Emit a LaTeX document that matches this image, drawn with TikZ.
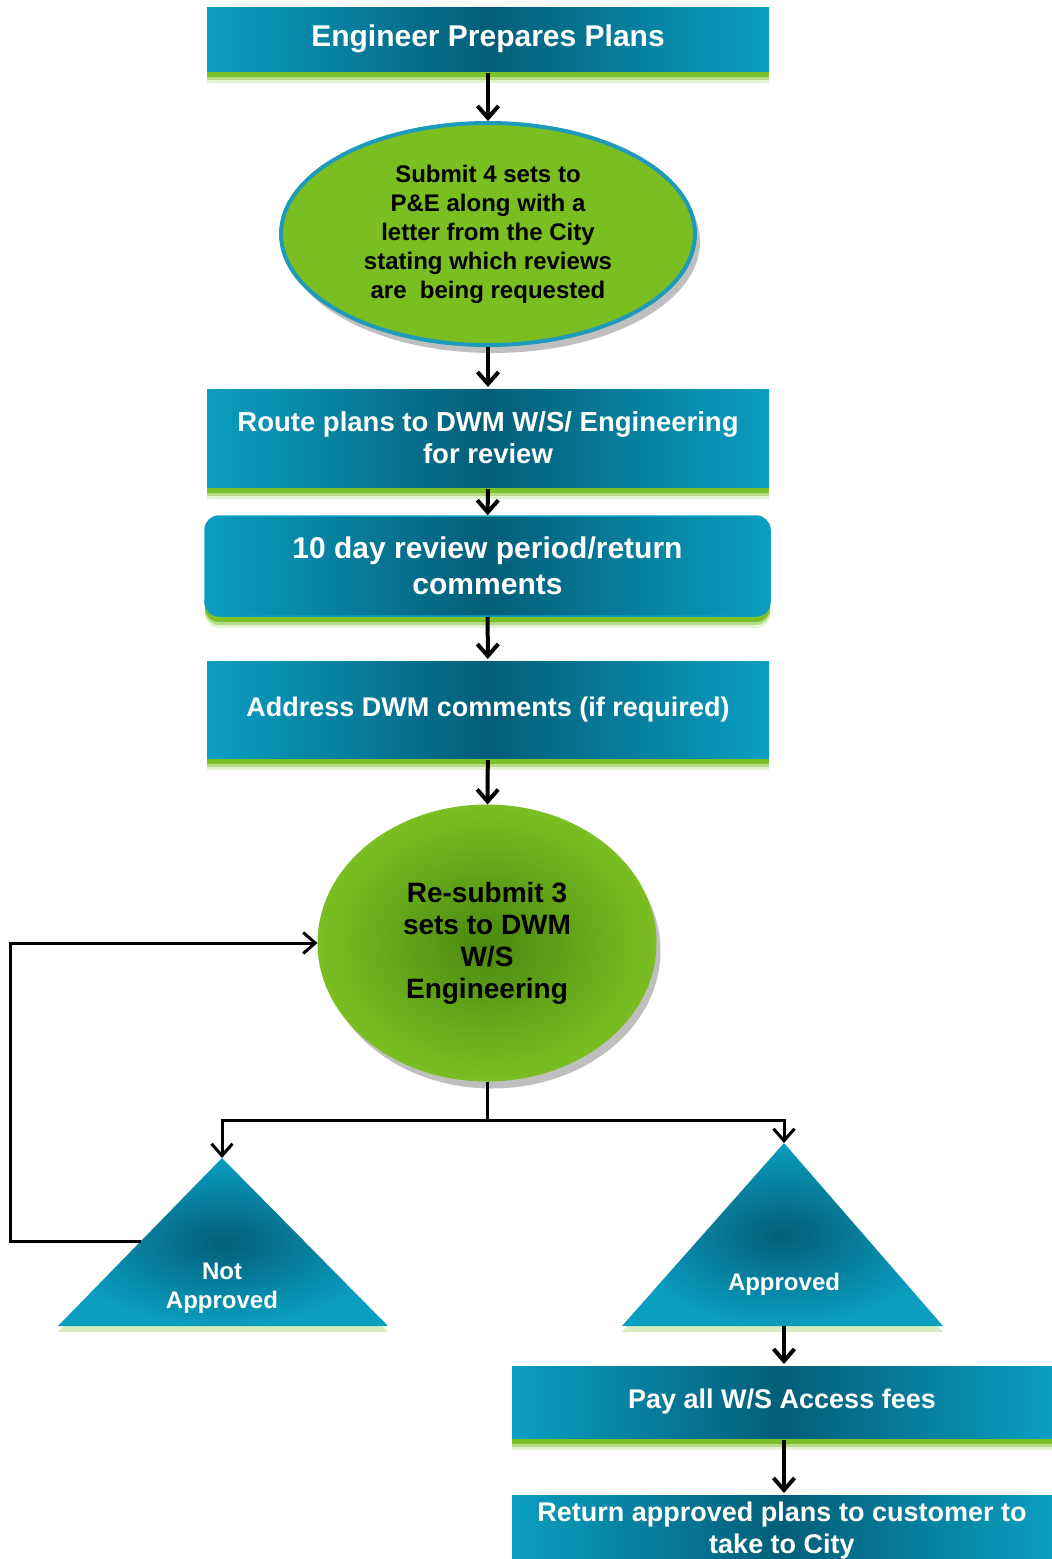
\documentclass[tikz,border=0pt]{standalone}
\usepackage{fontspec}
\setmainfont{Liberation Sans}
\usetikzlibrary{arrows.meta, shapes.geometric, shadows}
\definecolor{cteal}{HTML}{0A9EC1}
\definecolor{cdeep}{HTML}{045E78}
\definecolor{cgreen}{HTML}{7DC12A}
\definecolor{clime}{HTML}{7ABE22}
\definecolor{cmoss}{HTML}{4B880F}
\definecolor{cring}{HTML}{1E9BBA}
\newcommand{\fs}[2]{\fontsize{#1}{#2}\selectfont}
\tikzset{
  every picture/.style={font=\bfseries, line width=4pt},
  glow/.style={
    drop shadow={shadow xshift=0pt, shadow yshift=-12pt, fill=cgreen, opacity=.2},
    drop shadow={shadow xshift=0pt, shadow yshift=-9pt, fill=cgreen, opacity=.45},
    drop shadow={shadow xshift=0pt, shadow yshift=-6pt, fill=cgreen, opacity=1}},
  box/.style={left color=cteal, right color=cteal, middle color=cdeep, text=white, align=center,
    inner sep=0pt, minimum width=562pt, font=\bfseries\fs{27}{32}, glow},
  blob/.style={ellipse, inner sep=0pt, align=center, text=black},
  tri/.style={inner color=cdeep, outer color=cteal,
    drop shadow={shadow xshift=0pt, shadow yshift=-6pt, fill=cgreen, opacity=.3}},
  trilabel/.style={text=white, align=center, font=\bfseries\fs{24}{29}},
  arrow/.style={-{Straight Barb[length=12pt, width=21pt]}, draw=black, line width=4pt},
}

\begin{document}
\begin{tikzpicture}[x=1pt, y=-1pt]
  \useasboundingbox (0,0) rectangle (1052,1559);
  % main column
  \node[box, minimum height=64pt, font=\bfseries\fs{30}{34}] (plans) at (488,39) {Engineer Prepares Plans};
  \node[blob, minimum width=414pt, minimum height=222pt, fill=clime, draw=cring, line width=4pt,
    font=\bfseries\fs{24}{29},
    drop shadow={shadow xshift=5pt, shadow yshift=-8pt, fill=black, opacity=.25}] (submit) at (488,234)
    {Submit 4 sets to\\P\&E along with a\\letter from the City\\stating which reviews\\are \ being requested};
  \node[box, minimum height=98pt, font=\bfseries\fs{27.5}{32}] (route) at (488,438) {Route plans to DWM W/S/ Engineering\\for review};
  \node[box, minimum width=565pt, minimum height=100pt, rounded corners=14pt, draw=cteal, line width=1.5pt,
    font=\bfseries\fs{30}{36}] (review) at (487.5,566) {10 day review period/return\\comments};
  \node[box, minimum height=97pt] (address) at (488,709.5) {Address DWM comments (if required)};
  \node[blob, minimum width=337pt, minimum height=275pt, inner color=cmoss, outer color=clime,
    draw=clime, line width=2pt, font=\bfseries\fs{28}{32},
    drop shadow={shadow xshift=5pt, shadow yshift=-8pt, fill=black, opacity=.25}] (resubmit) at (487,943)
    {Re-submit 3\\sets to DWM\\W/S\\Engineering};
  % decision triangles
  \coordinate (naTop) at (222,1158);
  \coordinate (naSide) at (141,1241);
  \shade[tri] (naTop) -- (388,1326) -- (58,1326) -- cycle;
  \node[trilabel] (na) at (222,1288) {Not\\Approved};
  \coordinate (apTop) at (784,1143);
  \coordinate (apBase) at (784,1326);
  \shade[tri] (apTop) -- (943,1326) -- (622,1326) -- cycle;
  \node[trilabel] (ap) at (784,1284) {Approved};
  % approved branch
  \node[box, minimum width=540pt, minimum height=72pt] (pay) at (782,1402) {Pay all W/S Access fees};
  \node[box, minimum width=540pt, minimum height=70pt] (return) at (782,1530) {Return approved plans to customer to\\take to City};
  % connectors
  \draw[arrow] (plans) -- (submit);
  \draw[arrow] (submit) -- (route);
  \draw[arrow] (route) -- (review);
  \draw[arrow] (review) -- (address);
  \draw[arrow] (address) -- (resubmit);
  \coordinate (split) at (487,1120);
  \draw[line width=3pt] (resubmit) -- (split);
  \draw[arrow, line width=3pt] (split) -| (naTop);
  \draw[arrow, line width=3pt] (split) -| (apTop);
  \draw[arrow, line width=3pt] (naSide) -- ++(-131,0) |- (resubmit);
  \draw[arrow] (apBase) -- (apBase |- pay.north);
  \draw[arrow] (pay.south -| apBase) -- (return.north -| apBase);
\end{tikzpicture}
\end{document}
